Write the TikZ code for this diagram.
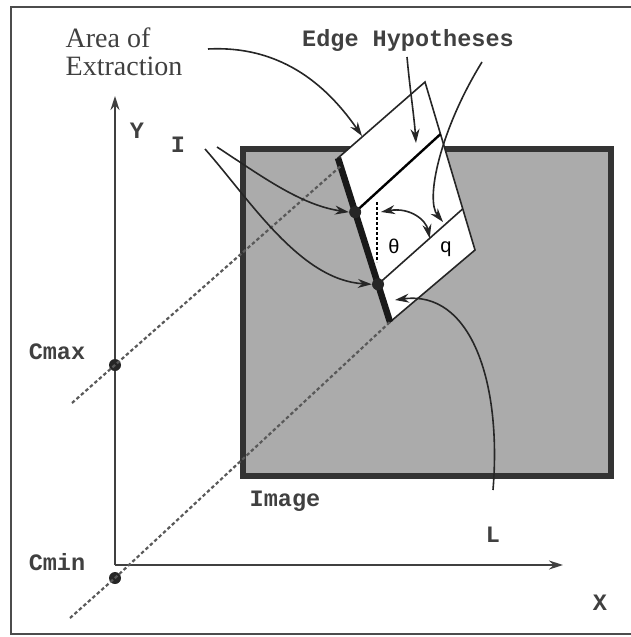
\documentclass[tikz,border=0pt]{standalone}
\usepackage{fontspec}
\setmainfont{Liberation Serif}
\newfontfamily\courfont{Liberation Mono}
\newfontfamily\helvfont{Liberation Sans}
\usetikzlibrary{arrows.meta,calc,positioning}

\tikzset{
  lbl/.style={font=\courfont\bfseries\fontsize{23.5}{23.5}\selectfont, text=black!75, inner sep=0pt},
  sym/.style={font=\helvfont\fontsize{20}{20}\selectfont, inner sep=0pt},
  ptr/.style={-{Stealth[length=14pt,width=9pt]}, line width=1.6pt, black!85},
  trace/.style={dash pattern=on 3.5pt off 2.5pt, line width=2.2pt, black!65},
  bead/.style={circle, fill=black!85, inner sep=0pt, minimum size=12pt},
}

\begin{document}
\begin{tikzpicture}[x=1pt,y=-1pt]
\useasboundingbox (0,0) rectangle (631,637);
% frame
\draw[line width=2.4pt, black!70] (631,7) -- (11,7) -- (11,634) -- (631,634);

% image
\draw[line width=6pt, black!80, fill=black!33] (243,149) rectangle (611,476);
\node[lbl, anchor=center] (img) at (285,501) {Image};

% axes
\coordinate (O) at (115,565);
\draw[ptr, black!75] (O) -- (115,96);
\draw[ptr, black!75] (O) -- (563,565);
\node[lbl] (ylab) at (137,131) {Y};
\node[lbl] (xlab) at (600,603) {X};

% area of extraction
\coordinate (A) at (425,82);
\coordinate (B) at (338,158);
\coordinate (C) at (390,322);
\coordinate (D) at (475,250);
\draw[line width=1.6pt, black!85, fill=white] (A) -- (B) -- (C) -- (D) -- cycle;
\draw[line width=2.4pt] ($(A)!0.31!(D)$) -- ($(B)!0.33!(C)$);
\draw[line width=1.6pt, black!85] ($(A)!0.755!(D)$) -- ($(B)!0.77!(C)$);
\draw[line width=6.5pt, black!90] (B) -- (C);
\node[bead] (p1) at ($(B)!0.33!(C)$) {};
\node[bead] (p2) at ($(B)!0.77!(C)$) {};

% traces through Cmax and Cmin
\node[bead] (cmax) at (115,365) {};
\node[bead] (cmin) at (115,578) {};
\draw[trace] (72,403) -- (cmax.center) -- ($(B)!0.05!(C)$);
\draw[trace] (70,618) -- (cmin.center) -- (C);
\node[lbl] (cmaxlab) at (57,352) {Cmax};
\node[lbl] (cminlab) at (57,562) {Cmin};

% orientation
\draw[line width=2.8pt, dash pattern=on 3pt off 2pt] (377,202) -- (377,262);
\coordinate (t1) at (381,212);
\coordinate (t2) at ($(A)!0.755!(D)!0.39!($(B)!0.77!(C)$)$);
\draw[{Stealth[length=14pt,width=9pt]}-{Stealth[length=14pt,width=9pt]}, line width=1.6pt, black!85]
  (t1) .. controls (410,207) and (426,220) .. (t2);
\node[sym] (theta) at (394,246) {θ};
\node[sym] (q) at (446,249) {q};

% labels and pointers
\node[align=left, font=\fontsize{28}{28.5}\selectfont, text=black!75, inner sep=0pt] (area) at (124,52) {Area of\\Extraction};
\coordinate (a0) at (208,49);
\draw[ptr] (a0) .. controls (285,45) and (330,90) .. (362,136);

\node[lbl] (hyp) at (408,40) {Edge Hypotheses};
\coordinate (h0) at (407,57);
\coordinate (h1) at (482,62);
\draw[ptr] (h0) .. controls (410,90) and (414,115) .. (416,143);
\draw[ptr] (h1) .. controls (440,130) and (425,200) .. (443,222);

\node[lbl] (ilab) at (178,145) {I};
\coordinate (i0) at (217,147);
\coordinate (i1) at (205,149);
\draw[ptr] (i0) .. controls (260,175) and (300,205) .. (p1.west);
\draw[ptr] (i1) .. controls (250,200) and (300,280) .. (p2.west);

\node[lbl] (llab) at (493,535) {L};
\coordinate (l0) at (493,490);
\draw[ptr] (l0) .. controls (502,380) and (470,290) .. (395,300);
\end{tikzpicture}
\end{document}
